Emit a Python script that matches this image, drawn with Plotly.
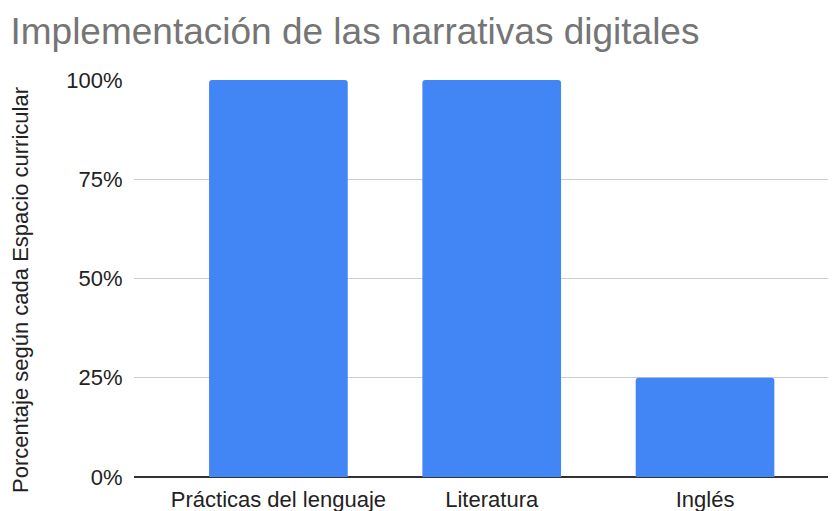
import plotly.graph_objects as go

categories = ["Prácticas del lenguaje", "Literatura", "Inglés"]
values = [1.0, 1.0, 0.25]
tick_vals = [0, 0.25, 0.5, 0.75, 1.0]
tick_text = ["0%", "25%", "50%", "75%", "100%"]

FONT = "Liberation Sans, Arial, sans-serif"

fig = go.Figure(go.Bar(
    x=categories, y=values, width=0.65,
    marker=dict(color="#4285F4", line=dict(width=0), cornerradius=3),
))

# the page body adds an 8px margin, so the figure is 8px smaller each way
fig.update_layout(
    width=828, height=503,
    margin=dict(l=126, r=0, t=72, b=34, autoexpand=False),
    paper_bgcolor="white", plot_bgcolor="white",
    font=dict(family=FONT, color="#222222", size=22),
    title=dict(text="Implementación de las narrativas digitales",
               x=0.003, xanchor="left", y=0.98, yanchor="top",
               font=dict(size=37, color="#757575", family=FONT),
               automargin=False),
    showlegend=False,
    annotations=[dict(text="Porcentaje según cada Espacio curricular",
                      textangle=-90, xref="paper", yref="paper",
                      x=-0.1624, y=0.471, xanchor="center", yanchor="middle",
                      showarrow=False, font=dict(size=22, color="#222222"))],
)
fig.update_xaxes(range=[-0.677, 2.614], showgrid=False,
                 ticks="outside", ticklen=3, tickcolor="rgba(0,0,0,0)",
                 tickfont=dict(size=22, color="#222222"), automargin=False)
fig.update_yaxes(range=[0, 1], tickvals=tick_vals, ticktext=tick_text,
                 showgrid=True, gridcolor="#cccccc", gridwidth=1,
                 zeroline=True, zerolinecolor="#333333", zerolinewidth=2,
                 ticks="outside", ticklen=6, tickcolor="rgba(0,0,0,0)",
                 tickfont=dict(size=22, color="#222222"), automargin=False)

fig.write_html("out.html")
